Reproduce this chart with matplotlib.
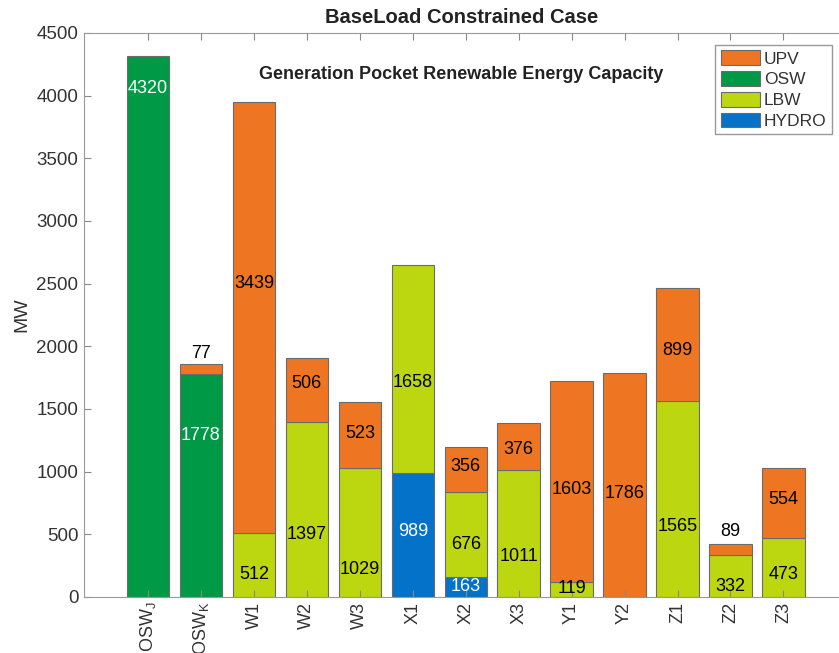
import matplotlib.pyplot as plt
import numpy as np

plt.rcParams['font.family'] = ['Liberation Sans', 'DejaVu Sans']

regions = ['OSW$_\\mathregular{J}$', 'OSW$_\\mathregular{K}$', 'W1', 'W2', 'W3', 'X1', 'X2',
           'X3', 'Y1', 'Y2', 'Z1', 'Z2', 'Z3']
hydro = [0, 0, 0, 0, 0, 989, 163, 0, 0, 0, 0, 0, 0]
lbw = [0, 0, 512, 1397, 1029, 1658, 676, 1011, 119, 0, 1565, 332, 473]
osw = [4320, 1778, 0, 0, 0, 0, 0, 0, 0, 0, 0, 0, 0]
upv = [0, 77, 3439, 506, 523, 0, 356, 376, 1603, 1786, 899, 89, 554]

# where the value labels sit (MW)
hydro_lab = [None, None, None, None, None, 520, 80, None, None, None, None, None, None]
lbw_lab = [None, None, 180, 500, 220, 1715, 420, 325, 70, None, 565, 85, 180]
osw_lab = [4060, 1285, None, None, None, None, None, None, None, None, None, None, None]
upv_lab = [None, 1945, 2505, 1705, 1305, None, 1045, 1175, 855, 825, 1965, 525, 780]

c_upv = '#EE7623'
c_osw = '#009A47'
c_lbw = '#BCD710'
c_hydro = '#0572C9'

x = np.arange(1, len(regions) + 1)
hydro = np.array(hydro)
lbw = np.array(lbw)
osw = np.array(osw)
upv = np.array(upv)

fig = plt.figure(figsize=(8.39, 6.53), dpi=100)
ax = fig.add_axes([0.1001, 0.0858, 0.8999, 0.8637])

def stack(vals, bottom, col):
    # skip the empty segments so they leave no edge line behind
    bottom = np.broadcast_to(bottom, vals.shape)
    m = vals > 0
    return ax.bar(x[m], vals[m], bottom=bottom[m], color=col, width=0.8,
                  edgecolor='#6b6b6b', linewidth=0.8)

b_h = stack(hydro, 0, c_hydro)
b_l = stack(lbw, hydro, c_lbw)
b_o = stack(osw, hydro + lbw, c_osw)
b_u = stack(upv, hydro + lbw + osw, c_upv)

def put_labels(vals, pos, col):
    for xi, v, p in zip(x, vals, pos):
        if p is not None:
            ax.text(xi, p, str(v), ha='center', va='center', fontsize=13, color=col)

put_labels(hydro, hydro_lab, 'white')
put_labels(lbw, lbw_lab, 'black')
put_labels(osw, osw_lab, 'white')
put_labels(upv, upv_lab, 'black')

ax.set_xlim(-0.21, 14.05)
ax.set_ylim(0, 4500)
ax.set_xticks(x)
ax.set_xticklabels(regions, rotation=90, fontsize=13)
ax.set_yticks(np.arange(0, 4501, 500))
ax.tick_params(axis='y', direction='in', labelsize=13.5, colors='#888888', length=5, pad=4)
ax.tick_params(axis='x', direction='in', top=True, colors='#888888', length=5)
for lab in ax.get_yticklabels() + ax.get_xticklabels():
    lab.set_color('#333333')
for s in ['left', 'bottom', 'top']:
    ax.spines[s].set_color('#999999')
ax.spines['right'].set_visible(False)

ax.set_ylabel('MW', fontsize=14, color='#333333', labelpad=4)
ax.set_title('BaseLoad Constrained Case', fontsize=14.5, fontweight='bold', color='#222222', pad=7)
ax.text(0.5, 0.926, 'Generation Pocket Renewable Energy Capacity', transform=ax.transAxes,
        ha='center', va='center', fontsize=13, fontweight='bold', color='#222222')

leg = ax.legend([b_u, b_o, b_l, b_h], ['UPV', 'OSW', 'LBW', 'HYDRO'], loc='upper right',
                bbox_to_anchor=(0.995, 0.985), fontsize=12.5, handlelength=2.3, handleheight=0.95,
                handletextpad=0.2, labelspacing=0.25, borderpad=0.3, borderaxespad=0.2,
                fancybox=False, edgecolor='#999999', framealpha=1)
for t in leg.get_texts():
    t.set_color('#333333')

fig.savefig('out.png', dpi=100)
